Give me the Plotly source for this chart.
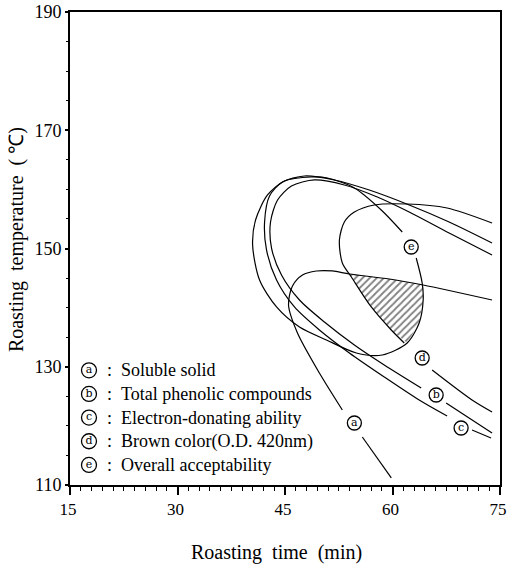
import plotly.graph_objects as go

# Contour lines of the superimposed response surfaces (roasting time in min, temperature in deg C).
# None splits a line where its circled label sits.
a_time = [59.83, 55.79, None, 53.00, 49.80, 46.74, 45.49, 46.04, 47.44, 49.38, 51.61, 53.98, 59.55, 64.28, 73.89]
a_temp = [111.19, 118.12, None, 122.69, 128.94, 135.71, 140.44, 143.66, 145.52, 146.20, 146.20, 145.69, 144.84, 143.83, 141.29]

b_time = [73.89, 67.90, 62.33, 57.88, 53.28, 49.11, 45.90, 43.96, 42.98, 43.12, 44.51, 47.02, 50.50, 54.68, 58.85, 64.00, None, 67.48, 73.89]
b_temp = [148.90, 152.62, 156.17, 158.71, 160.74, 161.59, 160.57, 158.20, 154.48, 150.08, 145.52, 141.29, 137.57, 133.68, 130.30, 126.41, None, 123.87, 118.80]

c_time = [73.89, 67.90, 62.33, 56.76, 51.89, 47.71, 44.65, 42.84, 42.15, 42.42, 43.82, 46.32, 49.80, 53.98, 58.85, 63.72, 67.62, None, 71.10, 73.75]
c_temp = [150.93, 154.48, 157.36, 159.89, 161.59, 162.26, 161.25, 158.88, 154.48, 149.75, 144.67, 140.11, 136.22, 132.33, 128.27, 124.38, 121.67, None, 119.30, 117.95]

d_time = [73.89, 67.62, 62.05, 57.46, 54.68, 53.28, 52.59, 53.00, 54.26, 57.04, 59.83, 61.64, None, 65.53, 71.10, 73.89]
d_temp = [154.31, 156.85, 157.53, 157.36, 156.17, 154.48, 151.44, 147.55, 145.18, 140.11, 136.22, 134.02, None, 129.45, 124.38, 122.35]

e_time = [63.31, 64.14, 64.28, 63.72, 62.05, 58.57, 54.95, 50.78, 47.02, 43.82, 41.45, 40.48, 40.89, 42.56, 44.93, 48.69, 50.92, 54.68, 58.43, 61.36]
e_temp = [148.39, 144.17, 141.29, 137.40, 134.02, 131.99, 132.33, 134.53, 136.72, 140.11, 144.67, 150.59, 154.82, 159.05, 161.42, 162.09, 161.92, 160.23, 156.51, 152.79]

# Circled curve labels placed on the lines
label_letters = ["a", "b", "c", "d", "e"]
label_time = [54.68, 66.09, 69.57, 64.14, 62.61]
label_temp = [120.49, 125.22, 119.64, 131.48, 150.25]

# Key listing the responses
key_names = ["Soluble solid", "Total phenolic compounds", "Electron-donating ability",
             "Brown color(O.D. 420nm)", "Overall acceptability"]
key_temp = [129.4, 125.4, 121.4, 117.4, 113.4]

x_ticks = [15, 30, 45, 60, 75]
y_ticks = [110, 130, 150, 170, 190]

# Optimum region: below curve a, inside curve e, right of curve d
hatch_time = a_time[11:14] + e_time[2:5] + [d_time[10], d_time[9], d_time[8]]
hatch_temp = a_temp[11:14] + e_temp[2:5] + [d_temp[10], d_temp[9], d_temp[8]]

fig = go.Figure()

fig.add_trace(go.Scatter(
    x=hatch_time + [hatch_time[0]], y=hatch_temp + [hatch_temp[0]],
    mode="lines", fill="toself", line=dict(width=0, color="black"),
    fillcolor="white",
    fillpattern=dict(shape="/", size=5, solidity=0.35, fgcolor="black", bgcolor="white"),
    hoverinfo="skip"))

for xs, ys in [(a_time, a_temp), (b_time, b_temp), (c_time, c_temp), (d_time, d_temp), (e_time, e_temp)]:
    fig.add_trace(go.Scatter(
        x=xs, y=ys, mode="lines",
        line=dict(color="black", width=1.2, shape="spline", smoothing=0.8),
        hoverinfo="skip"))

fig.add_trace(go.Scatter(
    x=label_time, y=label_temp, mode="markers+text", text=label_letters,
    textposition="middle center",
    textfont=dict(family="DejaVu Serif", size=11, color="black"),
    marker=dict(size=14, color="white", line=dict(color="black", width=1.3)),
    hoverinfo="skip", cliponaxis=False))

# key: circled letters then names
fig.add_trace(go.Scatter(
    x=[17.65] * 5, y=key_temp, mode="markers+text", text=label_letters,
    textposition="middle center",
    textfont=dict(family="DejaVu Serif", size=11, color="black"),
    marker=dict(size=15, color="white", line=dict(color="black", width=1.3)),
    hoverinfo="skip"))

for name, t in zip(key_names, key_temp):
    fig.add_annotation(x=20.57, y=t, text=":", showarrow=False, xanchor="center",
                       font=dict(family="Liberation Serif", size=18, color="black"))
    fig.add_annotation(x=21.82, y=t, text=name, showarrow=False, xanchor="left",
                       font=dict(family="Liberation Serif", size=18, color="black"))

fig.add_annotation(xref="paper", yref="paper", x=0.48, y=-0.142,
                   text="Roasting\u00a0 time\u00a0 (min)", showarrow=False,
                   xanchor="center", yanchor="middle",
                   font=dict(family="Liberation Serif", size=20, color="black"))
fig.add_annotation(xref="paper", yref="paper", x=-0.123, y=0.518,
                   text="Roasting\u00a0 temperature\u00a0 (\u00a0\u2103)", showarrow=False,
                   textangle=-90, xanchor="center", yanchor="middle",
                   font=dict(family="Liberation Serif", size=20, color="black"))

fig.update_layout(
    width=507, height=569,
    margin=dict(l=70, r=7, t=12, b=84),
    plot_bgcolor="white", paper_bgcolor="white",
    font=dict(family="Liberation Serif", color="black"),
    showlegend=False,
)
fig.update_xaxes(
    range=[15, 75], tickvals=x_ticks, ticks="outside", ticklen=8, tickwidth=1.5,
    tickcolor="black", showline=True, linewidth=2, linecolor="black", mirror=True,
    showgrid=False, zeroline=False, tickfont=dict(size=17, family="Liberation Serif"),
    ticklabeloverflow="allow", ticklabelshift=-2, automargin=False,
    minor=dict(dtick=1.5, ticks="outside", ticklen=4, tickwidth=1, tickcolor="black", showgrid=False),
)
fig.update_yaxes(
    range=[110, 190], tickvals=y_ticks, ticks="outside", ticklen=3, tickwidth=1.5,
    tickcolor="black", showline=True, linewidth=2, linecolor="black", mirror=True,
    showgrid=False, zeroline=False, tickfont=dict(size=18, family="Liberation Serif"),
    ticklabeloverflow="allow", automargin=False,
    minor=dict(dtick=5, ticks="outside", ticklen=2, tickwidth=1, tickcolor="black", showgrid=False),
)

fig.write_html("out.html")
